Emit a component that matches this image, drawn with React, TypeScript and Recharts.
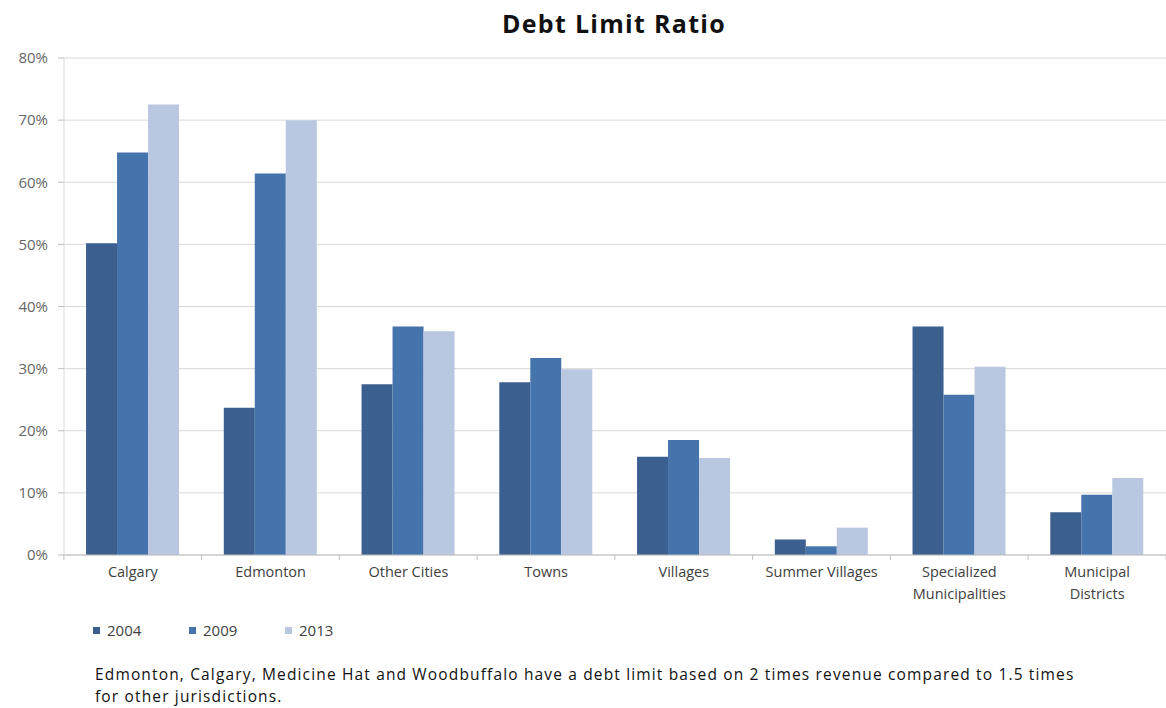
import React from "react";
import { BarChart, Bar, XAxis, YAxis, CartesianGrid } from "recharts";

const categories = [
  "Calgary",
  "Edmonton",
  "Other Cities",
  "Towns",
  "Villages",
  "Summer Villages",
  "Specialized Municipalities",
  "Municipal Districts",
];

const years = ["2004", "2009", "2013"];

// debt limit ratio, percent
const ratio2004 = [50.2, 23.7, 27.5, 27.8, 15.8, 2.5, 36.8, 6.9];
const ratio2009 = [64.8, 61.4, 36.8, 31.7, 18.5, 1.4, 25.8, 9.7];
const ratio2013 = [72.5, 70.0, 36.0, 29.9, 15.6, 4.4, 30.3, 12.4];

const yTicks = [0, 10, 20, 30, 40, 50, 60, 70, 80];

const colors = ["#3b5f8f", "#4573ab", "#b9c7e0"];

const data = categories.map((name, i) => ({
  name,
  y2004: ratio2004[i],
  y2009: ratio2009[i],
  y2013: ratio2013[i],
}));

const FONT = "'Open Sans', Lato, sans-serif";

// long category names wrap onto two lines
function CategoryTick(props: any) {
  const { x, y, payload, index } = props;
  const label: string = payload.value;
  const lines = label.length > 16 ? label.split(" ") : [label];
  const half = 69;
  return (
    <g>
      <line x1={x - half} y1={y - 8} x2={x - half} y2={y - 3} stroke="#bfbfbf" />
      {index === categories.length - 1 && (
        <line x1={x + half} y1={y - 8} x2={x + half} y2={y - 3} stroke="#bfbfbf" />
      )}
      {lines.map((ln, k) => (
        <text
          key={k}
          x={x}
          y={y + 14 + k * 22}
          textAnchor="middle"
          fontSize={14.5}
          fill="#404040"
          fontFamily={FONT}
        >
          {ln}
        </text>
      ))}
    </g>
  );
}

export default function App() {
  return (
    <div
      style={{
        position: "absolute",
        left: 0,
        top: 0,
        width: 1166,
        height: 708,
        background: "#fff",
        fontFamily: FONT,
      }}
    >
      <div
        style={{
          position: "absolute",
          left: 62,
          width: 1104,
          top: 6,
          textAlign: "center",
          fontSize: 25,
          fontWeight: 700,
          letterSpacing: 1.3,
          color: "#111",
        }}
      >
        Debt Limit Ratio
      </div>

      <BarChart
        width={1166}
        height={620}
        data={data}
        margin={{ top: 58, right: 0, bottom: 5, left: 0 }}
        barCategoryGap="16%"
        barGap={0}
        style={{ position: "absolute", left: 0, top: 0 }}
      >
        <CartesianGrid vertical={false} stroke="#d9d9d9" />
        <XAxis
          dataKey="name"
          tick={<CategoryTick />}
          tickLine={false}
          axisLine={{ stroke: "#bfbfbf" }}
          interval={0}
          height={60}
        />
        <YAxis
          domain={[0, 80]}
          ticks={yTicks}
          tickFormatter={(v) => `${v}%`}
          width={64}
          tick={{ fontSize: 15, fill: "#666", fontFamily: FONT }}
          tickLine={{ stroke: "#bfbfbf" }}
          tickSize={6}
          tickMargin={10}
          axisLine={{ stroke: "#d9d9d9" }}
        />
        <Bar dataKey="y2004" fill={colors[0]} isAnimationActive={false} />
        <Bar dataKey="y2009" fill={colors[1]} isAnimationActive={false} />
        <Bar dataKey="y2013" fill={colors[2]} isAnimationActive={false} />
      </BarChart>

      <div
        style={{
          position: "absolute",
          left: 93,
          top: 620,
          display: "flex",
          fontSize: 15,
          color: "#404040",
        }}
      >
        {years.map((yr, i) => (
          <div key={yr} style={{ display: "flex", alignItems: "center", width: 96 }}>
            <span
              style={{
                display: "inline-block",
                width: 7,
                height: 7,
                background: colors[i],
                marginRight: 7,
              }}
            />
            {yr}
          </div>
        ))}
      </div>

      <div
        style={{
          position: "absolute",
          left: 95,
          top: 663,
          width: 1066,
          fontSize: 15.5,
          letterSpacing: 1.15,
          lineHeight: "22px",
          color: "#111",
          whiteSpace: "nowrap",
        }}
      >
        Edmonton, Calgary, Medicine Hat and Woodbuffalo have a debt limit based on 2 times revenue compared to 1.5 times
        <br />
        for other jurisdictions.
      </div>
    </div>
  );
}
